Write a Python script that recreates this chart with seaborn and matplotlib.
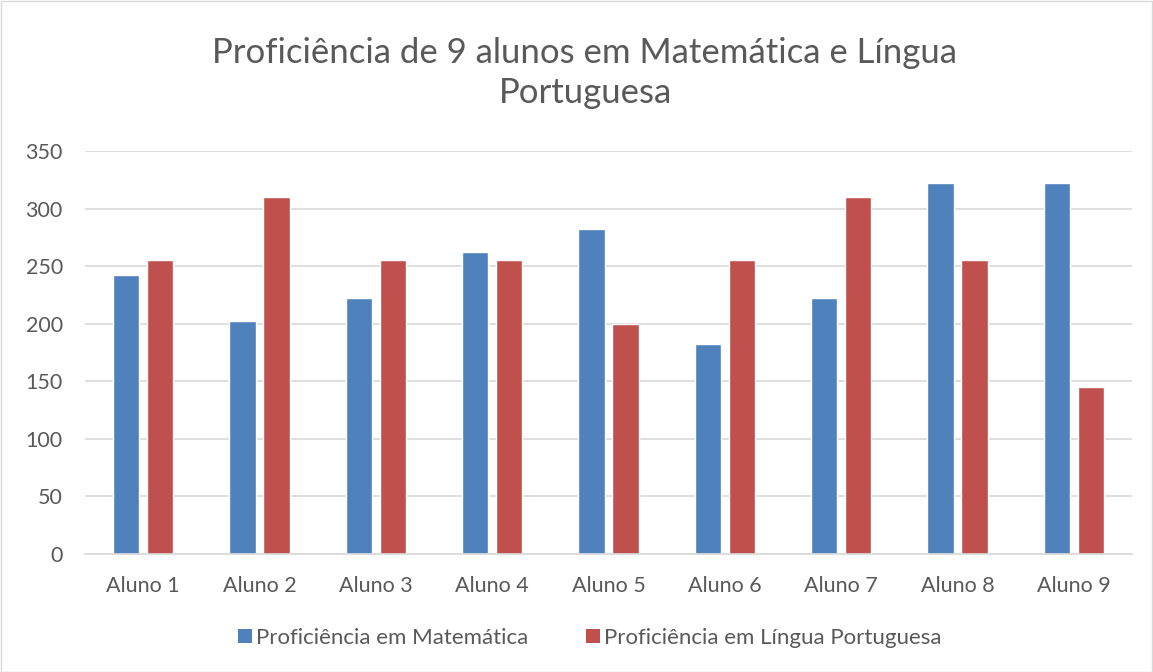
import matplotlib
matplotlib.use("Agg")
import matplotlib.pyplot as plt
import seaborn as sns
import pandas as pd
from matplotlib.patches import Rectangle, Patch

alunos = ["Aluno 1", "Aluno 2", "Aluno 3", "Aluno 4", "Aluno 5",
          "Aluno 6", "Aluno 7", "Aluno 8", "Aluno 9"]
matematica = [242, 202, 222, 262, 282, 182, 222, 322, 322]
portugues = [255, 310, 255, 255, 200, 255, 310, 255, 145]
series = ["Proficiência em Matemática", "Proficiência em Língua Portuguesa"]
colors = ["#4F81BD", "#C0504D"]
title = "Proficiência de 9 alunos em Matemática e Língua\nPortuguesa"

df = pd.DataFrame({
    "aluno": alunos * 2,
    "valor": matematica + portugues,
    "serie": [series[0]] * len(alunos) + [series[1]] * len(alunos),
})

sns.set_theme(style="white")
plt.rcParams['font.family'] = ['Lato', 'DejaVu Sans']
text_color = "#595959"

fig = plt.figure(figsize=(11.53, 6.72), dpi=100)
ax = fig.add_axes([85 / 1153, 1 - 554 / 672, (1132 - 85) / 1153, (554 - 151) / 672])

sns.barplot(data=df, x="aluno", y="valor", hue="serie", palette=colors,
            width=0.585, gap=0.235, ax=ax, legend=False, saturation=1)

ax.set_ylim(0, 350)
ax.set_xlim(-0.5, len(alunos) - 0.5)
ax.set_yticks(range(0, 351, 50))
ax.yaxis.grid(True, color="#D9D9D9", linewidth=1.2)
ax.set_axisbelow(True)
for s in ["top", "right", "left"]:
    ax.spines[s].set_visible(False)
ax.spines["bottom"].set_color("#D9D9D9")
ax.spines["bottom"].set_linewidth(1.2)
ax.set_xlabel("")
ax.set_ylabel("")
ax.tick_params(axis="both", length=0, labelsize=15.5, colors=text_color)
ax.tick_params(axis="y", pad=16)
ax.tick_params(axis="x", pad=16)

fig.text(585 / 1153, 1 - 73 / 672, title, ha="center", va="center",
         fontsize=25, color=text_color, linespacing=1.3)

handles = [Patch(facecolor=c, edgecolor="none") for c in colors]
fig.legend(handles, series, loc="center", bbox_to_anchor=(590 / 1153, 1 - 638 / 672),
           ncol=2, frameon=False, fontsize=16, labelcolor=text_color,
           handlelength=0.6, handleheight=0.6, handletextpad=0.2, columnspacing=2.6)

fig.patches.append(Rectangle((0.5 / 1153, 0.5 / 672), 1 - 1.5 / 1153, 1 - 1.5 / 672,
                             transform=fig.transFigure, fill=False,
                             edgecolor="#D9D9D9", linewidth=1))

fig.savefig("out.png", dpi=100)
